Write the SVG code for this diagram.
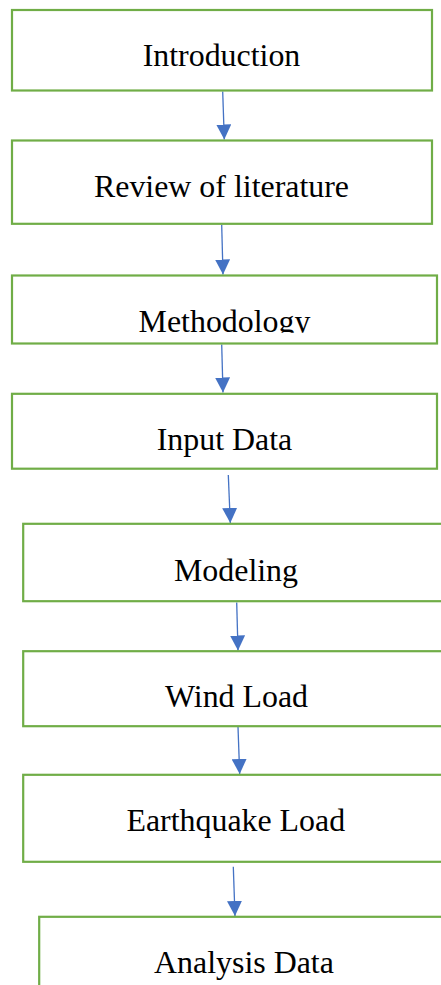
<svg xmlns="http://www.w3.org/2000/svg" width="441" height="985" viewBox="0 0 441 985">
  <style>
    .box { fill: #ffffff; stroke: #70AD47; stroke-width: 2.2; }
    .label { font-family: "Liberation Serif", "Times New Roman", serif; font-size: 31.9px; fill: #000000; text-anchor: middle; }
    .flow { stroke: #4472C4; stroke-width: 1.3; fill: none; marker-end: url(#head); }
  </style>
  <defs>
    <marker id="head" markerUnits="userSpaceOnUse" markerWidth="15" markerHeight="15" refX="15" refY="7.5" orient="auto">
      <path d="M0,0 L15,7.5 L0,15 Z" fill="#4472C4"/>
    </marker>
    <clipPath id="methodClip">
      <rect x="13" y="277" width="423" height="55.7"/>
    </clipPath>
  </defs>
  <rect width="441" height="985" fill="#ffffff"/>

  <g id="connectors">
    <line class="flow" x1="222.7" y1="91.5" x2="224.3" y2="139.5"/>
    <line class="flow" x1="221.7" y1="225" x2="223" y2="274.5"/>
    <line class="flow" x1="221.7" y1="344.5" x2="223" y2="392.5"/>
    <line class="flow" x1="228.3" y1="475" x2="230.3" y2="523"/>
    <line class="flow" x1="236.7" y1="602.5" x2="238" y2="650.5"/>
    <line class="flow" x1="238" y1="727" x2="239.7" y2="774"/>
    <line class="flow" x1="233.3" y1="866.7" x2="235" y2="916"/>
  </g>

  <g id="introduction">
    <rect class="box" x="12" y="10" width="420" height="80.5"/>
    <text class="label" x="221.5" y="65.7">Introduction</text>
  </g>
  <g id="review">
    <rect class="box" x="12" y="140.5" width="420" height="83.3"/>
    <text class="label" x="221.5" y="196.7">Review of literature</text>
  </g>
  <g id="methodology">
    <rect class="box" x="12" y="275.5" width="425" height="68"/>
    <text class="label" x="224.5" y="331.5" clip-path="url(#methodClip)">Methodology</text>
  </g>
  <g id="input-data">
    <rect class="box" x="12" y="393.8" width="425" height="74.9"/>
    <text class="label" x="224.5" y="450">Input Data</text>
  </g>
  <g id="modeling">
    <rect class="box" x="23.2" y="523.8" width="440" height="77.4"/>
    <text class="label" x="236" y="580.7">Modeling</text>
  </g>
  <g id="wind-load">
    <rect class="box" x="23.2" y="651.2" width="440" height="75"/>
    <text class="label" x="236.5" y="707.3">Wind Load</text>
  </g>
  <g id="earthquake-load">
    <rect class="box" x="23.2" y="774.8" width="440" height="87"/>
    <text class="label" x="235.8" y="831">Earthquake Load</text>
  </g>
  <g id="analysis-data">
    <rect class="box" x="39.2" y="916.8" width="430" height="100"/>
    <text class="label" x="244" y="973.3">Analysis Data</text>
  </g>
</svg>
